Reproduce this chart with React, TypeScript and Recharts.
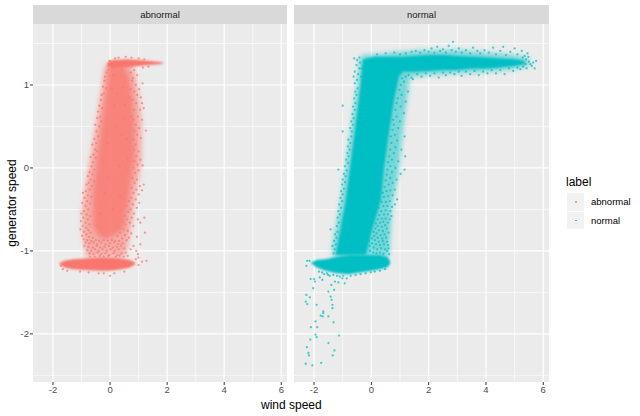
import { ComposedChart, Area, Scatter, XAxis, YAxis, ZAxis, CartesianGrid } from 'recharts'

const RED = '#F8766D'
const TEAL = '#00BFC4'

const xTicks = [-2, 0, 2, 4, 6]
const xMinor = [-1, 1, 3, 5]
const yTicks = [-2, -1, 0, 1]
const yMinor = [-2.5, -1.5, -0.5, 0.5, 1.5]
const legendItems = ['abnormal', 'normal']

// solid parts of the clouds, read as [x, low, high]
const redBottomBand = [
  [-1.78, -1.16, -1.15], [-1.6, -1.2, -1.12], [-1.3, -1.22, -1.1], [-0.9, -1.23, -1.09], [-0.4, -1.24, -1.08],
  [0, -1.24, -1.08], [0.4, -1.22, -1.09], [0.7, -1.2, -1.11], [0.88, -1.16, -1.14],
]
const redTopBand = [
  [-0.1, 1.22, 1.27], [0.1, 1.2, 1.3], [0.6, 1.21, 1.31], [1.0, 1.23, 1.3], [1.4, 1.24, 1.29], [1.7, 1.25, 1.28], [1.87, 1.26, 1.27],
]
const redHalo = [
  [-0.98, -0.75, -0.5], [-0.85, -1.07, -0.2], [-0.65, -1.07, 0.2], [-0.45, -1.07, 0.62], [-0.28, -1.07, 1.0], [-0.18, -1.07, 1.24],
  [0.3, -1.07, 1.24], [0.5, -1.07, 1.24], [0.62, -0.95, 1.24], [0.78, -0.62, 1.24], [0.9, -0.3, 1.1], [1.02, -0.1, 0.85], [1.1, 0.1, 0.55],
]
const redBody = [
  [-0.6, -0.7, -0.3], [-0.45, -0.8, 0.12], [-0.3, -0.85, 0.52], [-0.12, -0.85, 0.98], [-0.05, -0.85, 1.22],
  [0.45, -0.75, 1.22], [0.62, -0.45, 1.15], [0.72, -0.2, 1.02], [0.8, 0, 0.75], [0.86, 0.1, 0.5],
]
const tealBottomBand = [
  [-2.1, -1.15, -1.14], [-1.9, -1.2, -1.11], [-1.6, -1.24, -1.1], [-1.2, -1.27, -1.07], [-0.8, -1.28, -1.05],
  [-0.4, -1.26, -1.05], [0, -1.24, -1.05], [0.3, -1.22, -1.05], [0.55, -1.2, -1.07], [0.65, -1.16, -1.12],
]
const tealHalo = [
  [-1.36, -1.07, -0.95], [-1.05, -1.07, -0.35], [-0.72, -1.07, 0.45], [-0.5, -1.07, 1.0], [-0.42, -1.07, 1.32], [-0.3, -1.07, 1.36],
  [0.5, -1.07, 1.38], [0.62, -1.07, 1.39], [0.72, -0.45, 1.39], [0.95, -0.05, 1.4], [1.15, 0.6, 1.4], [1.35, 1.1, 1.41],
  [2, 1.12, 1.42], [3, 1.14, 1.42], [4, 1.16, 1.39], [5, 1.19, 1.36], [5.5, 1.23, 1.32],
]
const tealBody = [
  [-1.25, -1.05, -1.04], [-1.21, -1.05, -0.99], [-0.89, -1.05, -0.39], [-0.58, -1.05, 0.42], [-0.37, -1.05, 1.02],
  [-0.3, -1.05, 1.3], [-0.19, -1.05, 1.32], [0, -0.78, 1.33], [0.16, -0.59, 1.34], [0.33, -0.39, 1.34], [0.44, 0, 1.34],
  [0.61, 0.42, 1.34], [0.79, 0.82, 1.34], [0.96, 1.1, 1.34], [1.1, 1.16, 1.34], [1.5, 1.16, 1.35], [2, 1.17, 1.36],
  [2.5, 1.18, 1.36], [3, 1.18, 1.35], [3.5, 1.2, 1.34], [4, 1.2, 1.33], [4.5, 1.21, 1.32], [5, 1.23, 1.31], [5.35, 1.25, 1.29],
]

// scattered points around the solid parts, read as [x, y]
const redPoints = [
  [0.02, 1.28], [0.08, 1.2], [-0.05, 1.18], [-0.12, 1.15], [0.12, 1.12], [-0.18, 1.1], [0.85, 1.18], [0.72, 1.15], [0.95, 1.12], [0.8, 1.08],
  [-0.2, 1.05], [-0.25, 0.98], [-0.14, 0.96], [-0.22, 0.9], [-0.3, 0.88], [0.78, 1.05], [0.9, 1.0], [1.02, 0.95], [1.14, 1.02], [0.85, 0.92],
  [0.95, 0.88], [1.08, 0.85], [0.72, 0.95], [1.12, 0.78], [0.92, 0.78], [0.78, 0.82], [1.18, 0.72], [1.05, 0.7], [0.85, 0.7], [0.98, 0.62],
  [-0.32, 0.82], [-0.38, 0.75], [-0.28, 0.72], [-0.42, 0.68], [-0.35, 0.62], [-0.45, 0.6], [-0.3, 0.56], [-0.52, 0.52], [-0.38, 0.5], [-0.48, 0.44],
  [0.82, 0.58], [1.12, 0.58], [0.9, 0.52], [1.26, 0.45], [1.02, 0.48], [0.85, 0.44], [0.95, 0.4], [1.08, 0.36], [0.82, 0.34], [0.9, 0.28],
  [-0.42, 0.38], [-0.55, 0.35], [-0.48, 0.3], [-0.62, 0.28], [-0.52, 0.22], [-0.45, 0.2], [-0.58, 0.16], [-0.68, 0.13], [-0.5, 0.12], [-0.6, 0.07],
  [0.84, 0.22], [1.0, 0.2], [0.92, 0.14], [0.86, 0.08], [1.06, 0.1], [0.96, 0.04], [0.82, 0.0], [1.14, 0.03], [1.0, -0.03], [0.88, -0.06],
  [-0.65, 0.02], [-0.55, -0.02], [-0.72, -0.05], [-0.62, -0.08], [-0.78, -0.1], [-0.68, -0.14], [-0.56, -0.16], [-0.75, -0.18], [-0.82, -0.2], [-0.64, -0.22],
  [0.78, -0.12], [0.94, -0.14], [0.86, -0.18], [1.18, -0.2], [1.04, -0.22], [0.76, -0.24], [0.92, -0.26], [1.12, -0.27], [0.82, -0.3], [1.0, -0.32],
  [-0.72, -0.26], [-0.85, -0.28], [-0.95, -0.3], [-0.78, -0.33], [-0.66, -0.35], [-0.9, -0.36], [-0.8, -0.4], [-0.98, -0.42], [-0.7, -0.43], [-0.86, -0.46],
  [0.74, -0.36], [0.9, -0.38], [0.66, -0.4], [1.02, -0.42], [0.8, -0.44], [0.58, -0.46], [0.94, -0.48], [0.72, -0.5], [0.64, -0.53], [0.84, -0.55],
  [-0.76, -0.5], [-0.92, -0.52], [-1.0, -0.55], [-0.82, -0.56], [-0.7, -0.58], [-0.94, -0.6], [-0.78, -0.62], [-1.02, -0.64], [-0.86, -0.66], [-0.72, -0.68],
  [0.52, -0.58], [0.76, -0.6], [0.6, -0.62], [0.98, -0.62], [1.2, -0.6], [0.46, -0.65], [0.7, -0.66], [0.54, -0.68], [1.06, -0.66], [0.82, -0.7],
  [-0.96, -0.7], [-0.84, -0.72], [-1.04, -0.74], [-0.76, -0.75], [-0.92, -0.77], [-0.68, -0.78], [-0.84, -0.8], [-0.98, -0.82], [-0.74, -0.83], [-0.6, -0.84],
  [0.48, -0.74], [0.62, -0.76], [0.36, -0.78], [0.74, -0.79], [0.52, -0.81], [0.26, -0.82], [0.66, -0.84], [0.42, -0.85], [0.58, -0.87], [0.94, -0.83],
  [-0.92, -0.86], [-0.8, -0.87], [-0.66, -0.88], [-0.5, -0.87], [-0.38, -0.88], [-0.22, -0.87], [-0.08, -0.88], [0.06, -0.87], [0.18, -0.88], [0.32, -0.88],
  [-0.86, -0.9], [-0.72, -0.91], [-0.58, -0.9], [-0.44, -0.92], [-0.3, -0.9], [-0.16, -0.92], [0, -0.91], [0.14, -0.9], [0.28, -0.92], [0.44, -0.91],
  [-0.9, -0.94], [-0.76, -0.95], [-0.6, -0.96], [-0.47, -0.94], [-0.34, -0.96], [-0.2, -0.95], [-0.04, -0.94], [0.1, -0.96], [0.24, -0.95], [0.38, -0.94],
  [-0.8, -0.99], [-0.66, -1.0], [-0.52, -0.98], [-0.4, -1.0], [-0.26, -0.98], [-0.12, -1.0], [0.02, -0.98], [0.16, -1.0], [0.3, -0.98], [0.5, -0.97],
  [-0.72, -1.03], [-0.58, -1.04], [-0.44, -1.02], [-0.3, -1.04], [-0.16, -1.03], [-0.02, -1.05], [0.12, -1.03], [0.26, -1.05], [0.4, -1.03], [0.55, -1.02],
  [-0.7, -1.07], [-0.54, -1.07], [-0.36, -1.06], [-0.22, -1.07], [-0.06, -1.06], [0.2, -1.07], [0.34, -1.06], [0.48, -1.07], [0.62, -1.06], [0.72, -0.98],
  [0.99, -1.08], [1.28, -1.12], [1.12, -1.13], [1.0, -1.17], [0.9, -1.1], [0.98, -1.04], [1.22, -0.78], [1.06, -0.92], [0.92, -1.0], [0.82, -0.94],
  [-1.72, -1.18], [-1.65, -1.22], [-1.5, -1.24], [-1.05, -1.25], [-0.75, -1.26], [-0.4, -1.27], [0, -1.3], [0.15, -1.27], [0.5, -1.25], [-0.22, -1.27],
  [0.25, 0.9], [0.4, 0.4], [-0.1, 0.3], [0.15, 0.75], [0.32, 0.02], [-0.2, -0.3], [0.1, -0.5], [0.35, -0.35], [-0.35, -0.55], [0.5, 0.6],
  [0.6, 0.35], [0.55, 0.0], [-0.05, -0.12], [0.22, 0.5], [0.05, 0.95], [0.44, 0.98], [0.52, 0.76], [0.62, 0.12], [0.74, 0.62], [0.68, 0.85],
  [0.3, 1.33], [0.55, 1.34], [0.75, 1.33], [1.0, 1.32], [1.2, 1.31], [0.18, 1.32], [-0.02, 1.29], [0.42, 1.19], [1.15, 1.21], [1.35, 1.22],
]
const tealPoints = [
  // lower tail
  [-2.27, -1.53], [-2.15, -1.56], [-2.29, -1.61], [-2.24, -1.64], [-1.91, -1.65], [-1.39, -1.59], [-1.42, -1.55], [-1.36, -1.65], [-1.36, -1.69], [-1.68, -1.73],
  [-1.68, -1.75], [-1.77, -1.78], [-1.7, -1.79], [-1.5, -1.79], [-1.95, -1.85], [-1.32, -1.86], [-2.11, -1.92], [-1.89, -1.92], [-1.95, -2.01], [-1.91, -2.04],
  [-1.13, -2.02], [-2.13, -2.07], [-1.5, -2.11], [-2.25, -2.16], [-1.29, -2.2], [-2.2, -2.23], [-2.18, -2.26], [-1.35, -2.26], [-1.75, -2.35], [-2.29, -2.36],
  [-2.06, -2.38], [-2.12, -1.34], [-2.0, -1.34], [-1.8, -1.32], [-1.71, -1.35], [-1.97, -1.37], [-2.03, -1.45], [-1.5, -1.49], [-1.3, -1.47], [-1.4, -1.41],
  [-1.15, -1.38], [-0.93, -1.39], [-0.86, -1.33], [-1.01, -1.33], [-1.27, -1.37], [-1.33, -1.29], [-1.51, -1.29], [-1.65, -1.28], [-1.83, -1.25], [-2.24, -1.12],
  [-2.27, -1.18], [-2.16, -1.12], [-1.55, -1.27], [-1.72, -1.26], [-1.45, -1.3], [-1.2, -1.3], [-1.1, -1.31], [-0.98, -1.3], [-0.72, -1.3], [-0.55, -1.29],
  [-0.38, -1.28], [-0.2, -1.27], [-0.02, -1.26], [0.12, -1.25], [0.3, -1.24], [0.48, -1.22],
  // left edge of the body
  [-1.32, -1.03], [-1.28, -0.98], [-1.36, -0.94], [-1.24, -0.92], [-1.3, -0.88], [-1.22, -0.84], [-1.27, -0.8], [-1.18, -0.77], [-1.42, -0.74], [-1.2, -0.7],
  [-1.14, -0.66], [-1.18, -0.6], [-1.1, -0.56], [-1.15, -0.52], [-1.06, -0.48], [-1.12, -0.44], [-1.02, -0.4], [-1.08, -0.36], [-1.0, -0.32], [-1.05, -0.28],
  [-0.96, -0.25], [-1.02, -0.2], [-0.92, -0.17], [-1.0, -0.14], [-0.9, -0.1], [-0.96, -0.07], [-1.15, -0.02], [-0.86, -0.03], [-0.92, 0.02], [-0.82, 0.06],
  [-0.88, 0.1], [-0.8, 0.14], [-0.84, 0.18], [-0.76, 0.22], [-0.82, 0.26], [-0.74, 0.3], [-0.8, 0.34], [-0.7, 0.38], [-1.0, 0.44], [-0.68, 0.44],
  [-0.74, 0.48], [-0.64, 0.52], [-0.7, 0.56], [-0.62, 0.6], [-0.66, 0.65], [-0.58, 0.7], [-0.64, 0.74], [-0.56, 0.78], [-0.6, 0.84], [-1.0, 0.75],
  [-0.52, 0.88], [-0.56, 0.92], [-0.48, 0.96], [-0.58, 1.02], [-0.5, 1.06], [-0.62, 1.1], [-0.46, 1.13], [-0.58, 1.16], [-0.42, 1.2], [-0.52, 1.24],
  [-0.4, 1.27], [-0.6, 1.32], [-0.5, 1.3], [-0.42, 1.33], [-0.34, 1.2], [-0.36, 1.1],
  // right edge of the body
  [0.62, -1.04], [0.55, -1.0], [0.42, -1.04], [0.3, -1.02], [0.18, -1.03], [0.06, -1.02], [-0.05, -1.0], [0.6, -0.97], [0.48, -0.98], [0.34, -0.97],
  [0.2, -0.98], [0.08, -0.96], [-0.06, -0.94], [0.58, -0.93], [0.44, -0.92], [0.3, -0.93], [0.16, -0.92], [0.02, -0.91], [-0.08, -0.88], [0.55, -0.89],
  [0.4, -0.88], [0.26, -0.89], [0.12, -0.87], [0.02, -0.85], [0.52, -0.84], [0.38, -0.85], [0.22, -0.84], [0.1, -0.82], [0.46, -0.8], [0.32, -0.81],
  [0.18, -0.79], [0.08, -0.77], [0.6, -0.78], [0.4, -0.76], [0.26, -0.75], [0.14, -0.73], [0.54, -0.73], [0.36, -0.71], [0.22, -0.7], [0.16, -0.67],
  [0.48, -0.69], [0.58, -0.66], [0.42, -0.65], [0.3, -0.66], [0.64, -0.62], [0.5, -0.61], [0.36, -0.61], [0.22, -0.62], [0.28, -0.57], [0.44, -0.56],
  [0.58, -0.56], [0.7, -0.58], [0.34, -0.52], [0.5, -0.51], [0.66, -0.52], [0.26, -0.48], [0.42, -0.46], [0.56, -0.46], [0.72, -0.47], [0.82, -0.44],
  [0.36, -0.41], [0.5, -0.41], [0.64, -0.4], [0.9, -0.38], [0.44, -0.35], [0.58, -0.34], [0.74, -0.33], [0.4, -0.3], [0.52, -0.28], [0.66, -0.27],
  [0.82, -0.26], [0.46, -0.23], [0.6, -0.2], [0.74, -0.18], [0.5, -0.15], [0.66, -0.12], [0.88, -0.14], [0.54, -0.08], [0.72, -0.05], [1.02, -0.07],
  [0.56, -0.02], [0.66, 0.02], [0.84, 0.0], [1.16, -0.02], [0.58, 0.07], [0.72, 0.1], [0.94, 0.08], [0.62, 0.14], [0.78, 0.18], [1.18, 0.14],
  [0.66, 0.22], [0.84, 0.25], [1.05, 0.22], [0.7, 0.3], [0.9, 0.33], [0.68, 0.38], [0.82, 0.4], [1.16, 0.38], [0.74, 0.46], [0.94, 0.48],
  [0.78, 0.52], [1.0, 0.56], [0.76, 0.58], [0.88, 0.62], [1.14, 0.66], [0.84, 0.7], [1.02, 0.74], [0.88, 0.78], [1.2, 0.8], [0.92, 0.84],
  [1.05, 0.88], [0.98, 0.94], [1.28, 0.92], [1.02, 1.0], [1.14, 1.04], [1.06, 1.08], [1.2, 1.1], [1.4, 1.09],
  // long arm, upper and lower edge
  [0.2, 1.37], [0.5, 1.38], [0.8, 1.39], [1.0, 1.37], [1.2, 1.38], [1.4, 1.4], [1.55, 1.41], [1.7, 1.39], [1.85, 1.42], [2.0, 1.4],
  [2.1, 1.44], [2.2, 1.39], [2.3, 1.46], [2.4, 1.41], [2.5, 1.43], [2.6, 1.39], [2.7, 1.47], [2.8, 1.42], [2.85, 1.52], [2.95, 1.4],
  [3.05, 1.44], [3.15, 1.39], [3.3, 1.42], [3.45, 1.38], [3.55, 1.45], [3.7, 1.41], [3.8, 1.38], [3.95, 1.42], [4.1, 1.39], [4.25, 1.45],
  [4.35, 1.37], [4.5, 1.41], [4.6, 1.46], [4.7, 1.36], [4.85, 1.4], [5.0, 1.44], [5.1, 1.37], [5.25, 1.41], [5.35, 1.35], [5.45, 1.38],
  [1.3, 1.12], [1.45, 1.07], [1.6, 1.13], [1.75, 1.1], [1.9, 1.14], [2.05, 1.11], [2.2, 1.14], [2.35, 1.09], [2.5, 1.15], [2.6, 1.12],
  [2.75, 1.15], [2.9, 1.13], [3.05, 1.16], [3.15, 1.11], [3.3, 1.16], [3.45, 1.13], [3.6, 1.17], [3.75, 1.12], [3.9, 1.16], [4.05, 1.14],
  [4.2, 1.18], [4.35, 1.14], [4.5, 1.18], [4.65, 1.13], [4.8, 1.2], [4.95, 1.17], [5.1, 1.21], [5.2, 1.19], [5.3, 1.22], [5.42, 1.2],
  [5.4, 1.31], [5.5, 1.28], [5.55, 1.25], [5.6, 1.23], [5.48, 1.34], [5.65, 1.27], [5.75, 1.29], [5.7, 1.2], [5.38, 1.25], [5.28, 1.33],
]

const toRange = (rows: number[][]) => rows.map(([x, low, high]) => ({ x, range: [low, high] }))
const toPoints = (rows: number[][]) => rows.map(([x, y]) => ({ x, y }))

const HEIGHT = 416
const fontFamily = '"Liberation Sans", Arial, sans-serif'

function Panel({ title, left, width, showY, color, bands, points }: {
  title: string
  left: number
  width: number
  showY: boolean
  color: string
  bands: { rows: number[][]; opacity: number; soft: string }[]
  points: number[][]
}) {
  const stripLeft = showY ? left + 33 : left
  const stripWidth = showY ? width - 33 : width
  return (
    <>
      <div style={{
        position: 'absolute', left: stripLeft, top: 5, width: stripWidth, height: 19, background: '#D9D9D9',
        color: '#1A1A1A', fontSize: 9.5, lineHeight: '19px', textAlign: 'center', fontFamily,
      }}>{title}</div>
      <div style={{ position: 'absolute', left, top: 0 }}>
        <ComposedChart width={width} height={HEIGHT} margin={{ top: 24, right: 0, bottom: 14, left: 0 }}>
          <defs>
            <filter id="softWide" x="-20%" y="-20%" width="140%" height="140%"><feGaussianBlur stdDeviation="2.5" /></filter>
            <filter id="softFine" x="-20%" y="-20%" width="140%" height="140%"><feGaussianBlur stdDeviation="0.9" /></filter>
          </defs>
          <XAxis
            type="number"
            dataKey="x"
            domain={[-2.7, 6.2]}
            ticks={xTicks}
            allowDataOverflow
            axisLine={false}
            tickSize={3}
            tickLine={{ stroke: '#333333' }}
            height={20}
            tick={{ fontSize: 9.5, fill: '#4D4D4D', fontFamily }}
            tickMargin={1}
            interval={0}
          />
          <YAxis
            type="number"
            dataKey="y"
            domain={[-2.58, 1.735]}
            ticks={yTicks}
            allowDataOverflow
            hide={!showY}
            width={showY ? 33 : 0}
            axisLine={false}
            tickSize={3}
            tickLine={{ stroke: '#333333' }}
            tick={{ fontSize: 9.5, fill: '#4D4D4D', fontFamily }}
            tickMargin={1}
            interval={0}
          />
          <ZAxis range={[4, 4]} />
          <CartesianGrid fill="#EBEBEB" stroke="#FFFFFF" strokeWidth={0.6} horizontalValues={yMinor} verticalValues={xMinor} />
          <CartesianGrid stroke="#FFFFFF" strokeWidth={1.2} horizontalValues={yTicks} verticalValues={xTicks} />
          {bands.map((b, i) => (
            <Area
              key={i}
              data={toRange(b.rows)}
              dataKey="range"
              type="linear"
              stroke="none"
              fill={color}
              fillOpacity={b.opacity}
              filter={`url(#${b.soft})`}
              dot={false}
              activeDot={false}
              isAnimationActive={false}
            />
          ))}
          <Scatter data={toPoints(points)} fill={color} fillOpacity={0.75} isAnimationActive={false} />
        </ComposedChart>
      </div>
    </>
  )
}

export default function App() {
  return (
    <div style={{ position: 'absolute', left: 0, top: 0, width: 640, height: HEIGHT, background: '#FFFFFF', overflow: 'hidden', fontFamily }}>
      <Panel
        title="abnormal"
        left={0}
        width={287}
        showY
        color={RED}
        bands={[
          { rows: redHalo, opacity: 0.55, soft: 'softWide' },
          { rows: redBody, opacity: 0.75, soft: 'softWide' },
          { rows: redBottomBand, opacity: 1, soft: 'softFine' },
          { rows: redTopBand, opacity: 1, soft: 'softFine' },
        ]}
        points={redPoints}
      />
      <Panel
        title="normal"
        left={294}
        width={255}
        showY={false}
        color={TEAL}
        bands={[
          { rows: tealHalo, opacity: 0.5, soft: 'softWide' },
          { rows: tealBody, opacity: 1, soft: 'softFine' },
          { rows: tealBottomBand, opacity: 1, soft: 'softFine' },
        ]}
        points={tealPoints}
      />
      <div style={{ position: 'absolute', left: 261, top: 398, fontSize: 12, lineHeight: '14px', color: '#000000' }}>wind speed</div>
      <div style={{
        position: 'absolute', left: 12, top: 203, fontSize: 12, lineHeight: '14px', color: '#000000', whiteSpace: 'nowrap',
        transform: 'translate(-50%, -50%) rotate(-90deg)',
      }}>generator speed</div>
      <div style={{ position: 'absolute', left: 566, top: 175, fontSize: 12, lineHeight: '14px', color: '#000000' }}>label</div>
      {legendItems.map((name, i) => (
        <div key={name} style={{ position: 'absolute', left: 567, top: 193 + i * 18.5, width: 70, height: 18, fontSize: 9.5, lineHeight: '18px' }}>
          <div style={{ position: 'absolute', left: 0, top: 0, width: 17, height: 17.5, background: '#F2F2F2' }}>
            <div style={{ position: 'absolute', left: 8, top: 8, width: 1.5, height: 1.5, borderRadius: 1, background: i === 0 ? RED : TEAL }} />
          </div>
          <span style={{ position: 'absolute', left: 24, color: '#000000' }}>{name}</span>
        </div>
      ))}
    </div>
  )
}
